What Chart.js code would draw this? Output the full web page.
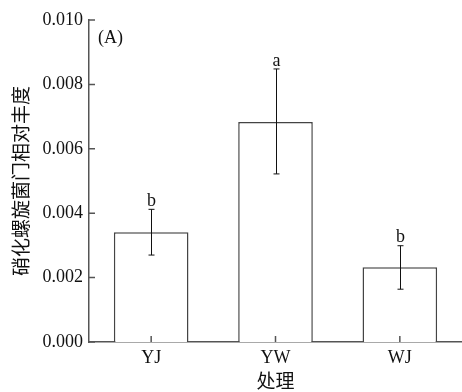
<!DOCTYPE html>
<html lang="zh">
<head>
<meta charset="UTF-8" />
<title>硝化螺旋菌门相对丰度</title>
<script src="https://cdn.jsdelivr.net/npm/chart.js"></script>
<style>
  html, body { margin: 0; padding: 0; background: #fff; }
  #wrap { width: 462px; height: 392px; }
</style>
</head>
<body>
<div id="wrap"><canvas id="myChart" width="462" height="392"></canvas></div>
<script>
// data
const categories = ['YJ', 'YW', 'WJ'];
const means = [0.00341, 0.00683, 0.00232];
const errHigh = [0.00412, 0.00848, 0.00299];
const errLow = [0.00270, 0.00522, 0.00164];
const letters = ['b', 'a', 'b'];
const yTicks = [0, 0.002, 0.004, 0.006, 0.008, 0.010];

const serif = '"Liberation Serif", "Times New Roman", serif';
const axisColor = '#555';

// error bars, significance letters, inward ticks, panel tag
const extras = {
  id: 'extras',
  afterDatasetsDraw(chart) {
    const ctx = chart.ctx;
    const x = chart.scales.x, y = chart.scales.y;
    const area = chart.chartArea;
    ctx.save();
    ctx.strokeStyle = '#111';
    ctx.lineWidth = 1;
    categories.forEach((c, i) => {
      const px = Math.round(x.getPixelForValue(i)) + 0.5;
      const top = y.getPixelForValue(errHigh[i]);
      const bot = y.getPixelForValue(errLow[i]);
      ctx.beginPath();
      ctx.moveTo(px, top); ctx.lineTo(px, bot);
      ctx.moveTo(px - 3, top); ctx.lineTo(px + 3, top);
      ctx.moveTo(px - 3, bot); ctx.lineTo(px + 3, bot);
      ctx.stroke();
      ctx.fillStyle = '#111';
      ctx.font = '18px ' + serif;
      ctx.textAlign = 'center';
      ctx.textBaseline = 'bottom';
      ctx.fillText(letters[i], px, top + 1);
    });
    // inward ticks
    ctx.strokeStyle = axisColor;
    ctx.lineWidth = 1.5;
    ctx.beginPath();
    yTicks.forEach(v => {
      const py = y.getPixelForValue(v);
      ctx.moveTo(area.left, py); ctx.lineTo(area.left + 6, py);
    });
    categories.forEach((c, i) => {
      const px = x.getPixelForValue(i);
      ctx.moveTo(px, area.bottom); ctx.lineTo(px, area.bottom - 6);
    });
    ctx.stroke();
    ctx.fillStyle = '#111';
    ctx.font = '18px ' + serif;
    ctx.textAlign = 'left';
    ctx.textBaseline = 'middle';
    ctx.fillText('(A)', area.left + 9, area.top + 18);
    ctx.restore();
  }
};

new Chart(document.getElementById('myChart'), {
  type: 'bar',
  data: {
    labels: categories,
    datasets: [{
      data: means,
      backgroundColor: '#fff',
      borderColor: '#444',
      borderWidth: 1.5,
      categoryPercentage: 0.6,
      barPercentage: 1
    }]
  },
  options: {
    responsive: false,
    animation: false,
    layout: { padding: { top: 20, right: 0, left: 0, bottom: 0 } },
    plugins: { legend: { display: false }, tooltip: { enabled: false } },
    scales: {
      x: {
        offset: true,
        grid: { display: false, drawTicks: false },
        border: { display: true, color: axisColor, width: 1.5 },
        ticks: { color: '#111', font: { family: serif, size: 18 }, padding: 5 },
        title: {
          display: true, text: '处理', color: '#111',
          font: { family: '"Noto Sans CJK SC", sans-serif', size: 19 },
          padding: { top: 0, bottom: 0 }
        },
        afterFit(s) { s.height = 50; }
      },
      y: {
        min: 0, max: 0.010,
        grid: { display: false, drawTicks: false },
        border: { display: true, color: axisColor, width: 1.5 },
        afterBuildTicks(s) { s.ticks = yTicks.map(v => ({ value: v })); },
        ticks: {
          color: '#111', font: { family: serif, size: 18 }, padding: 6,
          callback: v => v.toFixed(3)
        },
        title: {
          display: true, text: '硝化螺旋菌门相对丰度', color: '#111',
          font: { family: '"Noto Sans CJK SC", sans-serif', size: 19 },
          padding: { top: 9, bottom: 0 }
        },
        afterFit(s) { s.width = 89; }
      }
    }
  },
  plugins: [extras]
});
</script>
</body>
</html>
